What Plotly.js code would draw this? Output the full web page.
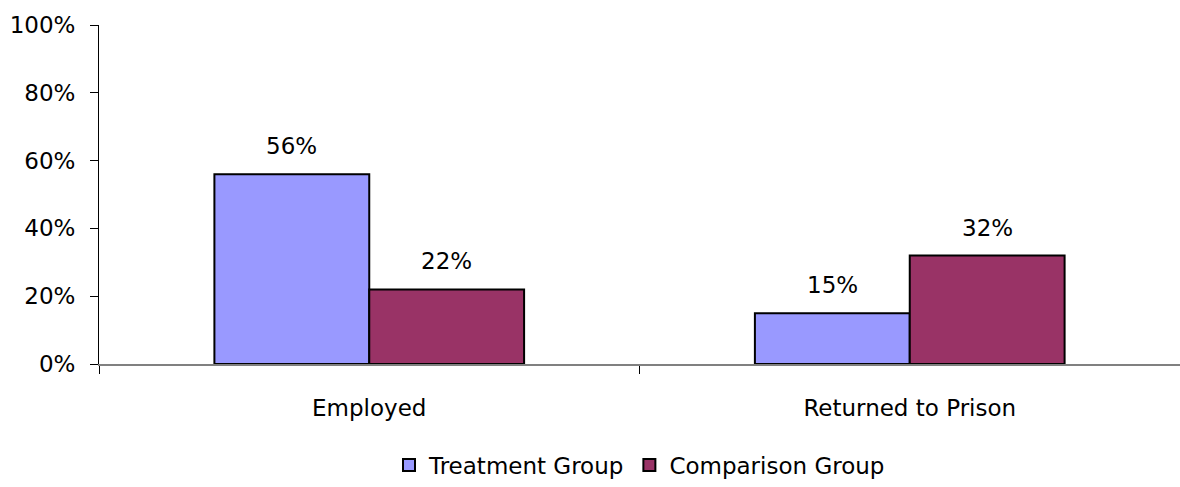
<!DOCTYPE html>
<html><head><meta charset="utf-8">
<script src="https://cdn.plot.ly/plotly-3.0.1.min.js"></script>
<style>html,body{margin:0;padding:0;background:#fff}#chart{width:1180px;height:487px}</style>
</head><body><div id="chart"></div>
<script>
const categories = ["Employed", "Returned to Prison"];
const treatmentValues = [56, 15];
const comparisonValues = [22, 32];
const seriesNames = ["Treatment Group", "Comparison Group"];
const yTickVals = [0, 20, 40, 60, 80, 100];
const yTickText = ["0%", "20%", "40%", "60%", "80%", "100%"];

const FONT = "DejaVu Sans, sans-serif";
const FS = 23;
const traces = [
  {type: "bar", name: seriesNames[0], x: categories, y: treatmentValues,
   marker: {color: "#9999FF", line: {color: "#000", width: 2}}, hoverinfo: "none"},
  {type: "bar", name: seriesNames[1], x: categories, y: comparisonValues,
   marker: {color: "#993366", line: {color: "#000", width: 2}}, hoverinfo: "none"}
];
const annotations = [];
[treatmentValues, comparisonValues].forEach((vals, s) => {
  vals.forEach((v, i) => {
    annotations.push({x: categories[i], y: v, text: v + "%", showarrow: false,
      xref: "x", yref: "y", xshift: s === 0 ? -77.5 : 77.5, yshift: 28,
      font: {size: FS, color: "#000", family: FONT}});
  });
});
const layout = {
  width: 1180, height: 487,
  margin: {l: 99, r: 0, t: 25, b: 121},
  paper_bgcolor: "#fff", plot_bgcolor: "#fff",
  barmode: "group", bargap: 0.427, bargroupgap: 0,
  font: {family: FONT, size: FS, color: "#000"},
  xaxis: {type: "category", showline: true, linecolor: "#808080", linewidth: 2,
    ticks: "outside", tickson: "boundaries", ticklen: 8, tickcolor: "#000", tickwidth: 1,
    showgrid: false, zeroline: false, tickfont: {size: FS}, range: [-0.5, 1.5],
    ticklabelstandoff: 22},
  yaxis: {range: [0, 100], tickvals: yTickVals, ticktext: yTickText, showline: true,
    linecolor: "#000", linewidth: 1, ticks: "outside", ticklen: 8, tickcolor: "#000",
    showgrid: false, zeroline: false, tickfont: {size: FS}, ticklabelstandoff: 10},
  legend: {orientation: "h", x: 0.5, xanchor: "center", xref: "paper", y: -0.235, yanchor: "top",
    font: {size: FS}, itemwidth: 30, traceorder: "normal"},
  annotations: annotations,
  showlegend: true
};
Plotly.newPlot("chart", traces, layout, {displayModeBar: false, staticPlot: true});
</script></body></html>
